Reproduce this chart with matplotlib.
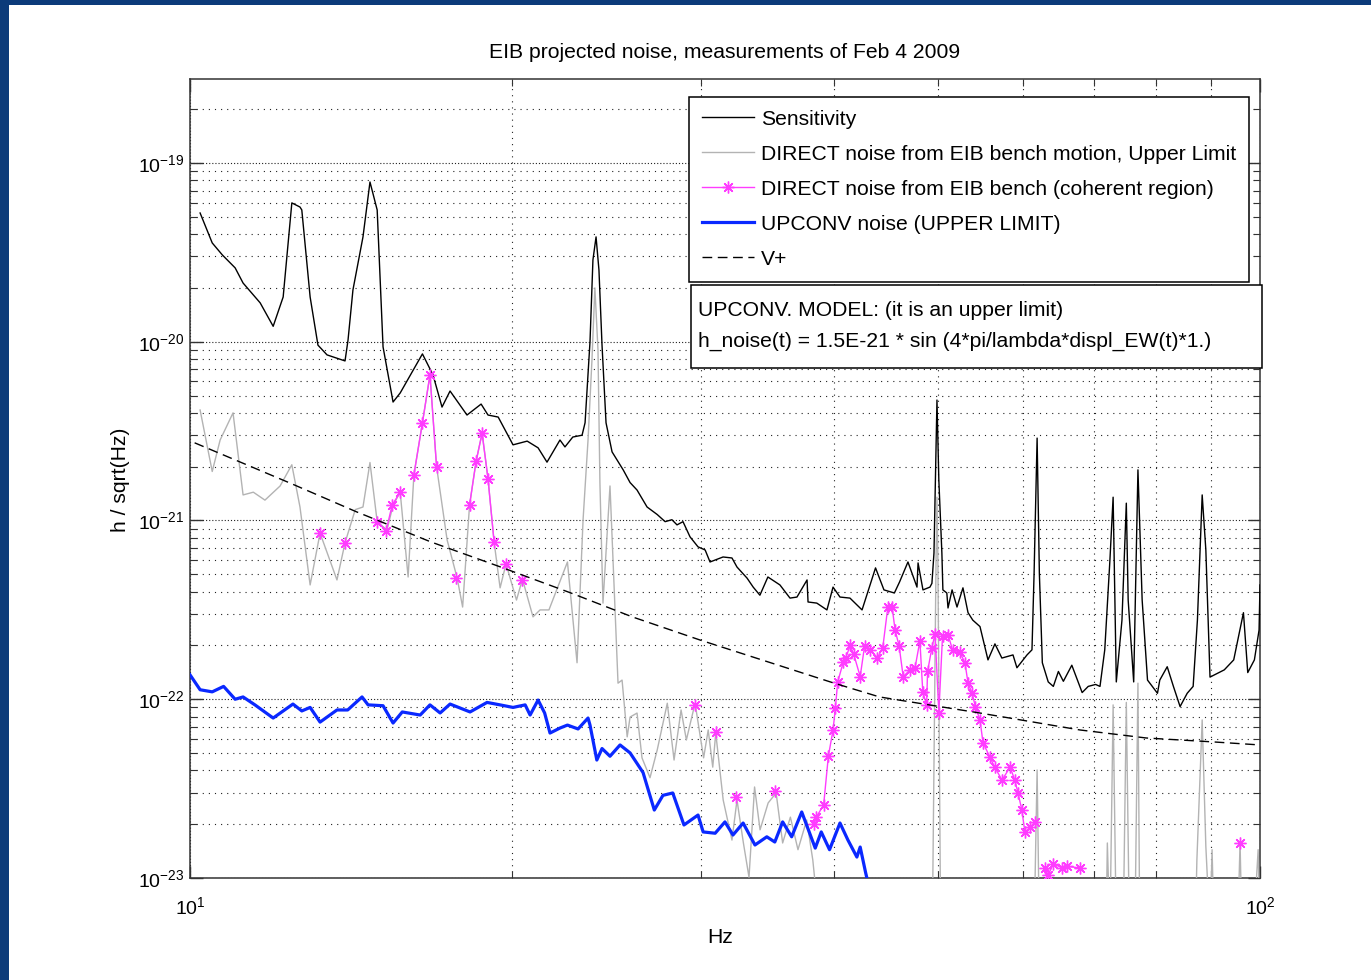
import numpy as np
import matplotlib
matplotlib.use("Agg")
import matplotlib.pyplot as plt
from matplotlib import font_manager
from matplotlib.patches import Rectangle
from matplotlib.ticker import FixedLocator, FuncFormatter, NullFormatter

nan = np.nan

# ---------------- data ----------------
sens_freq = [10.22, 10.49, 10.72, 11.02, 11.21, 11.63, 11.96, 12.22, 12.45, 12.67,
             12.72, 12.95, 13.17, 13.43, 13.96, 14.05, 14.20, 14.51, 14.73, 14.96,
             15.15, 15.48, 15.72, 16.49, 16.87, 17.20, 17.50, 18.15, 18.71, 18.99,
             19.41, 20.04, 20.66, 21.15, 21.56, 22.17, 22.41, 22.79, 23.25, 23.40,
             23.65, 23.80, 23.96, 24.11, 24.27, 24.48, 24.80, 25.40, 25.78, 26.17,
             26.74, 27.33, 27.80, 28.21, 28.52, 28.89, 29.33, 29.84, 30.30, 30.62,
             31.49, 32.10, 32.45, 33.16, 33.60, 34.09, 34.68, 35.59, 36.37, 36.92,
             37.73, 37.81, 38.53, 39.38, 39.90, 40.50, 41.38, 42.47, 43.72, 44.52,
             45.53, 46.04, 46.88, 47.80, 47.91, 48.42, 49.15, 49.36, 49.58, 49.79,
             49.90, 50.10, 50.43, 50.54, 50.97, 51.10, 51.55, 52.10, 52.77, 53.35,
             53.90, 54.74, 55.69, 56.53, 57.38, 58.77, 59.27, 60.57, 61.22, 61.50,
             61.90, 62.20, 62.60, 63.40, 64.10, 64.80, 65.50, 66.70, 68.20, 69.10,
             70.20, 70.87, 71.60, 72.40, 72.90, 73.40, 74.30, 75.00, 75.30, 76.20,
             76.90, 77.60, 78.50, 80.20, 80.60, 81.90, 83.00, 84.20, 85.50, 86.60,
             87.40, 88.30, 89.00, 89.80, 92.60, 94.50, 96.50, 97.40, 98.80, 99.80,
             100.0]
sens_amp = [5.25e-20, 3.57e-20, 3.06e-20, 2.59e-20, 2.13e-20, 1.65e-20, 1.22e-20, 1.78e-20, 5.98e-20, 5.67e-20,
            5.46e-20, 1.78e-20, 9.57e-21, 8.44e-21, 7.81e-21, 1.02e-20, 1.95e-20, 3.86e-20, 7.83e-20, 5.46e-20,
            9.36e-21, 4.60e-21, 5.17e-21, 8.55e-21, 6.52e-21, 4.31e-21, 5.30e-21, 3.89e-21, 4.48e-21, 3.89e-21,
            3.79e-21, 2.65e-21, 2.78e-21, 2.55e-21, 2.12e-21, 2.82e-21, 2.58e-21, 2.93e-21, 3.00e-21, 3.52e-21,
            1.00e-20, 2.87e-20, 3.86e-20, 2.52e-20, 9.57e-21, 3.52e-21, 2.42e-21, 1.92e-21, 1.63e-21, 1.48e-21,
            1.19e-21, 1.08e-21, 9.85e-22, 1.01e-21, 9.45e-22, 9.85e-22, 8.10e-22, 7.12e-22, 6.84e-22, 5.86e-22,
            6.25e-22, 6.17e-22, 5.49e-22, 4.76e-22, 4.24e-22, 3.82e-22, 4.83e-22, 4.36e-22, 3.68e-22, 3.73e-22,
            4.65e-22, 3.50e-22, 3.45e-22, 3.16e-22, 4.24e-22, 3.73e-22, 3.68e-22, 3.16e-22, 5.43e-22, 4.09e-22,
            3.93e-22, 4.53e-22, 5.86e-22, 4.24e-22, 5.79e-22, 4.09e-22, 4.24e-22, 4.45e-22, 6.58e-22, 2.48e-21,
            4.72e-21, 1.69e-21, 6.58e-22, 4.09e-22, 3.93e-22, 3.24e-22, 4.09e-22, 3.28e-22, 4.20e-22, 3.05e-22,
            2.77e-22, 2.55e-22, 1.66e-22, 2.04e-22, 1.70e-22, 1.77e-22, 1.50e-22, 1.77e-22, 1.89e-22, 5.08e-22,
            2.89e-21, 5.08e-22, 1.60e-22, 1.25e-22, 1.18e-22, 1.43e-22, 1.26e-22, 1.55e-22, 1.09e-22, 1.18e-22,
            1.21e-22, 1.18e-22, 1.89e-22, 6.01e-22, 1.35e-21, 1.25e-22, 2.77e-22, 1.25e-21, 3.59e-22, 1.25e-22,
            1.92e-21, 3.59e-22, 1.28e-22, 1.08e-22, 1.28e-22, 1.52e-22, 1.18e-22, 9.10e-23, 1.08e-22, 1.18e-22,
            2.77e-22, 1.39e-21, 6.84e-22, 1.33e-22, 1.46e-22, 1.66e-22, 3.05e-22, 1.41e-22, 1.66e-22, 2.44e-22,
            4.36e-22]

direct_freq = [10.22, 10.49, 10.67, 10.97, 11.21, 11.46, 11.75, 12.14, 12.45, 12.67,
               12.95, 13.23, 13.72, 13.96, 14.27, 14.51, 14.73, 14.96, 15.28, 15.48,
               15.72, 15.99, 16.19, 16.49, 16.76, 17.00, 17.39, 17.77, 17.98, 18.25,
               18.51, 18.75, 18.99, 19.24, 19.49, 19.74, 20.19, 20.45, 20.92, 21.24,
               21.65, 22.53, 23.00, 23.30, 23.55, 23.75, 23.90, 24.06, 24.16, 24.32,
               24.69, 24.96, 25.12, 25.34, 25.62, 25.78, 26.17, 26.45, 26.91, 27.33,
               27.93, 28.34, 28.77, 29.10, 29.65, 30.20, 30.50, 30.80, 31.00, 31.50,
               32.10, 32.45, 32.90, 33.30, 33.70, 34.10, 34.70, 35.30, 35.80, 36.40,
               37.00, 37.70, 38.20, 38.80, 49.40, 49.80, 49.90, 50.00, 50.30, 61.50,
               61.90, 62.20, 71.80, 72.00, 72.40, 72.90, 73.40, 74.50, 75.00, 75.50,
               76.40, 76.90, 77.20, 87.00, 87.30, 88.30, 89.00, 89.80, 90.20, 90.60,
               95.30, 95.80, 96.20, 98.60, 99.60, 100.0]
direct_amp = [4.15e-21, 1.88e-21, 2.82e-21, 4.00e-21, 1.39e-21, 1.44e-21, 1.30e-21, 1.56e-21, 2.05e-21, 1.19e-21,
              4.36e-22, 8.50e-22, 4.65e-22, 7.50e-22, 1.15e-21, 1.19e-21, 2.11e-21, 9.85e-22, 8.85e-22, 1.22e-21,
              1.44e-21, 4.83e-22, 1.80e-21, 3.52e-21, 6.52e-21, 2.00e-21, 7.78e-22, 4.76e-22, 3.28e-22, 1.22e-21,
              2.15e-21, 3.08e-21, 1.71e-21, 7.58e-22, 4.20e-22, 5.72e-22, 3.59e-22, 4.70e-22, 2.89e-22, 3.16e-22,
              3.16e-22, 5.86e-22, 1.60e-22, 1.01e-21, 2.82e-21, 7.91e-21, 2.00e-20, 9.00e-21, 1.63e-21, 3.45e-22,
              1.56e-21, 3.16e-22, 1.23e-22, 1.28e-22, 6.16e-23, 7.95e-23, 8.37e-23, 4.70e-23, 3.64e-23, 5.20e-23,
              9.50e-23, 4.57e-23, 8.71e-23, 5.92e-23, 9.50e-23, 4.70e-23, 6.73e-23, 4.17e-23, 6.47e-23, 2.73e-23,
              1.63e-23, 2.73e-23, 1.57e-23, 1.01e-23, 3.23e-23, 1.86e-23, 2.63e-23, 2.99e-23, 1.57e-23, 2.19e-23,
              1.44e-23, 2.11e-23, 1.26e-23, 5e-24, 5e-24, 6.0e-22, 1.35e-21, 6.0e-22, 5e-24, 5e-24,
              4.02e-23, 5e-24, 5e-24, 1.57e-23, 5e-24, 9.30e-23, 5e-24, 5e-24, 9.60e-23, 5e-24,
              5e-24, 1.23e-22, 5e-24, 5e-24, 1.26e-23, 7.66e-23, 1.50e-23, 5e-24, 1.44e-23, 5e-24,
              5e-24, 1.57e-23, 5e-24, 5e-24, 1.44e-23, 5e-24]

coh_freq = [13.23, nan, 13.96, nan,
            14.96, 15.25, 15.45, 15.72, nan,
            16.19, 16.49, 16.76, 17.00, nan,
            17.73, nan,
            18.25, 18.51, 18.75, 18.99, 19.24, nan,
            19.74, nan, 20.45, nan,
            29.65, nan, 31.0, nan, 32.4, nan, 35.2, nan,
            38.3, 38.5, 39.1, 39.5, 39.9, 40.1, 40.3, 40.8, 41.0, 41.4,
            41.7, 42.3, 42.7, 43.2, 43.9, 44.4, 44.9, 45.3, 45.6, 46.0,
            46.4, 47.1, 47.6, 48.1, 48.4, 48.8, 48.9, 49.35, 49.7, 50.1,
            50.5, 51.1, 51.6, 52.4, 53.0, 53.35, 53.8, 54.2, 54.74, 55.1,
            55.9, 56.5, 57.4, 58.4, 59.0, 59.4, 59.9, 60.3, 61.0, 61.6,
            nan, 62.9, 63.4, 64.1, 65.3, 66.0, 67.9, nan, 95.8]
coh_amp = [8.5e-22, nan, 7.5e-22, nan,
           9.85e-22, 8.77e-22, 1.22e-21, 1.44e-21, nan,
           1.80e-21, 3.52e-21, 6.52e-21, 2.0e-21, nan,
           4.76e-22, nan,
           1.22e-21, 2.15e-21, 3.08e-21, 1.71e-21, 7.58e-22, nan,
           5.72e-22, nan, 4.65e-22, nan,
           9.3e-23, nan, 6.6e-23, nan, 2.83e-23, nan, 3.07e-23, nan,
           2.0e-23, 2.2e-23, 2.56e-23, 4.8e-23, 6.73e-23, 8.9e-23, 1.25e-22, 1.62e-22, 1.7e-22, 2.0e-22,
           1.8e-22, 1.34e-22, 1.98e-22, 1.89e-22, 1.71e-22, 1.93e-22, 3.3e-22, 3.3e-22, 2.44e-22, 1.98e-22,
           1.34e-22, 1.46e-22, 1.5e-22, 2.12e-22, 1.1e-22, 9.3e-23, 1.43e-22, 1.93e-22, 2.33e-22, 8.37e-23,
           2.26e-22, 2.3e-22, 1.89e-22, 1.84e-22, 1.6e-22, 1.23e-22, 1.09e-22, 9.1e-23, 7.66e-23, 5.7e-23,
           4.77e-23, 4.17e-23, 3.53e-23, 4.17e-23, 3.53e-23, 3.0e-23, 2.4e-23, 1.8e-23, 1.93e-23, 2.06e-23,
           nan, 1.14e-23, 1.04e-23, 1.2e-23, 1.14e-23, 1.16e-23, 1.14e-23, nan, 1.57e-23]

upconv_freq = [10.0, 10.22, 10.49, 10.75, 11.02, 11.21, 11.50, 11.96, 12.48, 12.72,
               12.95, 13.23, 13.72, 14.04, 14.48, 14.67, 15.15, 15.48, 15.79, 16.41,
               16.76, 17.13, 17.50, 18.27, 18.95, 19.49, 20.04, 20.57, 20.79, 21.15,
               21.45, 21.70, 22.17, 22.53, 23.05, 23.55, 23.65, 24.00, 24.27, 24.69,
               25.23, 25.78, 26.51, 27.16, 27.67, 28.26, 28.95, 29.84, 30.17, 30.96,
               31.62, 32.17, 32.88, 33.73, 34.60, 35.20, 35.80, 36.50, 37.30, 38.40,
               38.90, 39.60, 40.50, 41.20, 42.00, 42.30, 42.80, 43.00]
upconv_amp = [1.37e-22, 1.13e-22, 1.10e-22, 1.18e-22, 1.00e-22, 1.03e-22, 9.3e-23, 7.85e-23, 9.4e-23, 8.6e-23,
              9.0e-23, 7.45e-23, 8.71e-23, 8.71e-23, 1.03e-22, 9.3e-23, 9.2e-23, 7.36e-23, 8.49e-23, 8.16e-23,
              9.3e-23, 8.38e-23, 9.4e-23, 8.49e-23, 9.6e-23, 9.3e-23, 9.0e-23, 9.3e-23, 8.16e-23, 9.9e-23,
              8.38e-23, 6.47e-23, 6.9e-23, 7.17e-23, 6.82e-23, 7.85e-23, 7.17e-23, 4.57e-23, 5.3e-23, 4.8e-23,
              5.55e-23, 5.01e-23, 3.89e-23, 2.4e-23, 2.9e-23, 2.99e-23, 1.98e-23, 2.25e-23, 1.81e-23, 1.78e-23,
              2.06e-23, 1.74e-23, 2.03e-23, 1.53e-23, 1.70e-23, 1.59e-23, 2.06e-23, 1.70e-23, 2.34e-23, 1.47e-23,
              1.81e-23, 1.44e-23, 2.03e-23, 1.63e-23, 1.31e-23, 1.49e-23, 1.07e-23, 9.5e-24]

vplus_freq = [10.1, 12.4, 14.3, 16.8, 19.5, 22.7, 25.9, 30.0, 40.0, 44.1, 54.7, 67.9, 78.3, 90.5, 100.0]
vplus_amp = [2.72e-21, 1.62e-21, 1.12e-21, 7.58e-22, 5.5e-22, 3.93e-22, 2.89e-22, 2.14e-22, 1.23e-22,
             1.03e-22, 8.38e-23, 6.73e-23, 6.07e-23, 5.77e-23, 5.55e-23]

x_major_ticks = [10, 100]
y_major_ticks = [1e-23, 1e-22, 1e-21, 1e-20, 1e-19]

legend_labels = ["Sensitivity",
                 "DIRECT noise from EIB bench motion, Upper Limit",
                 "DIRECT noise from EIB bench (coherent region)",
                 "UPCONV noise (UPPER LIMIT)",
                 "V+"]
title_text = "EIB projected noise, measurements of Feb 4 2009"
xlabel_text = "Hz"
ylabel_text = "h / sqrt(Hz)"
model_lines = ["UPCONV. MODEL: (it is an upper limit)",
               "h_noise(t) = 1.5E-21 * sin (4*pi/lambda*displ_EW(t)*1.)"]

# ---------------- fonts ----------------
def pick_font():
    for name in ["Liberation Sans", "DejaVu Sans"]:
        try:
            font_manager.findfont(font_manager.FontProperties(family=name),
                                  fallback_to_default=False)
            return name
        except Exception:
            pass
    return "DejaVu Sans"

FONT = pick_font()

plt.rcParams["font.family"] = [FONT, "DejaVu Sans"]
plt.rcParams["mathtext.fontset"] = "custom"
plt.rcParams["mathtext.rm"] = FONT
plt.rcParams["mathtext.it"] = FONT
plt.rcParams["mathtext.default"] = "regular"

FS = 15.2
TICK_FS = 14.0

W, H = 1371, 980
fig = plt.figure(figsize=(W / 100, H / 100), dpi=100)
fig.patch.set_facecolor("white")

# blue slide frame
fig.patches.append(Rectangle((0, 0), 9 / W, 1, transform=fig.transFigure,
                             facecolor="#0c3b7a", edgecolor="none", zorder=0))
fig.patches.append(Rectangle((0, 1 - 5 / H), 1, 5 / H, transform=fig.transFigure,
                             facecolor="#0c3b7a", edgecolor="none", zorder=0))

ax = fig.add_axes([190 / W, 1 - 878 / H, 1070 / W, 799 / H])
ax.set_xscale("log")
ax.set_yscale("log")

ax.plot(sens_freq, sens_amp, color="black", lw=1.0, label=legend_labels[0], zorder=3)
ax.plot(direct_freq, direct_amp, color="#b3b3b3", lw=1.0, label=legend_labels[1], zorder=3)
ax.plot(coh_freq, coh_amp, color="#ff3cff", lw=1.0, marker=(8, 2, 0), ms=8.5, mew=1.0,
        label=legend_labels[2], zorder=4)
ax.plot(upconv_freq, upconv_amp, color="#0a28ff", lw=2.3, label=legend_labels[3], zorder=5)
ax.plot(vplus_freq, vplus_amp, color="black", lw=1.0, dashes=(7, 4), label=legend_labels[4], zorder=5)

ax.set_xlim(10, 100)
ax.set_ylim(1e-23, 2.95e-19)

x_minor = [m * d for d in [10] for m in range(2, 10)]
y_minor = [m * d for d in [1e-23, 1e-22, 1e-21, 1e-20, 1e-19] for m in range(2, 10)
           if m * d <= 2.95e-19]
ax.xaxis.set_major_locator(FixedLocator(x_major_ticks))
ax.xaxis.set_minor_locator(FixedLocator(x_minor))
ax.yaxis.set_major_locator(FixedLocator(y_major_ticks))
ax.yaxis.set_minor_locator(FixedLocator(y_minor))

def fmt(v, pos):
    e = int(round(np.log10(v)))
    return r"$10^{%d}$" % e

ax.xaxis.set_major_formatter(FuncFormatter(fmt))
ax.yaxis.set_major_formatter(FuncFormatter(fmt))
ax.xaxis.set_minor_formatter(NullFormatter())
ax.yaxis.set_minor_formatter(NullFormatter())

ax.tick_params(which="both", direction="in", top=True, right=True, colors="#333333",
               labelcolor="black", labelsize=TICK_FS)
ax.tick_params(which="major", length=9, width=1.0)
ax.tick_params(which="minor", length=5, width=0.8)
ax.tick_params(axis="x", which="major", pad=13)
ax.tick_params(axis="y", which="major", pad=4)

ax.grid(True, which="major", color="#222222", lw=0.8, ls=(0, (1, 1.8)), zorder=1)
ax.grid(True, which="minor", color="#222222", lw=0.8, ls=(0, (1, 4.5)), zorder=1)

for s in ax.spines.values():
    s.set_linewidth(1.1)
    s.set_color("#333333")

ax.set_title(title_text, fontsize=FS, y=1.026, pad=0)
ax.set_xlabel(xlabel_text, fontsize=FS)
ax.xaxis.set_label_coords((720 - 190) / 1070, (878 - 928) / 799)
ax.set_ylabel(ylabel_text, fontsize=FS)
ax.yaxis.set_label_coords((130 - 190) / 1070, (878 - 480) / 799)

leg = ax.legend(loc="upper left", bbox_to_anchor=((689 - 190) / 1070, (878 - 97) / 799),
                borderaxespad=0, fontsize=FS, frameon=True, fancybox=False, framealpha=1,
                edgecolor="black", handlelength=2.5, handletextpad=0.3, labelspacing=0.76,
                borderpad=0.6, numpoints=1)
leg.get_frame().set_linewidth(1.1)
leg.set_zorder(10)

# model text box
fig.patches.append(Rectangle((691 / W, 1 - 368 / H), 571 / W, 83 / H, transform=fig.transFigure,
                             facecolor="white", edgecolor="black", lw=1.1, zorder=5))
fig.text(698 / W, 1 - 310 / H, model_lines[0], fontsize=FS, va="center", ha="left", zorder=6)
fig.text(698 / W, 1 - 341 / H, model_lines[1], fontsize=FS, va="center", ha="left", zorder=6)

fig.savefig("out.png", dpi=100)
